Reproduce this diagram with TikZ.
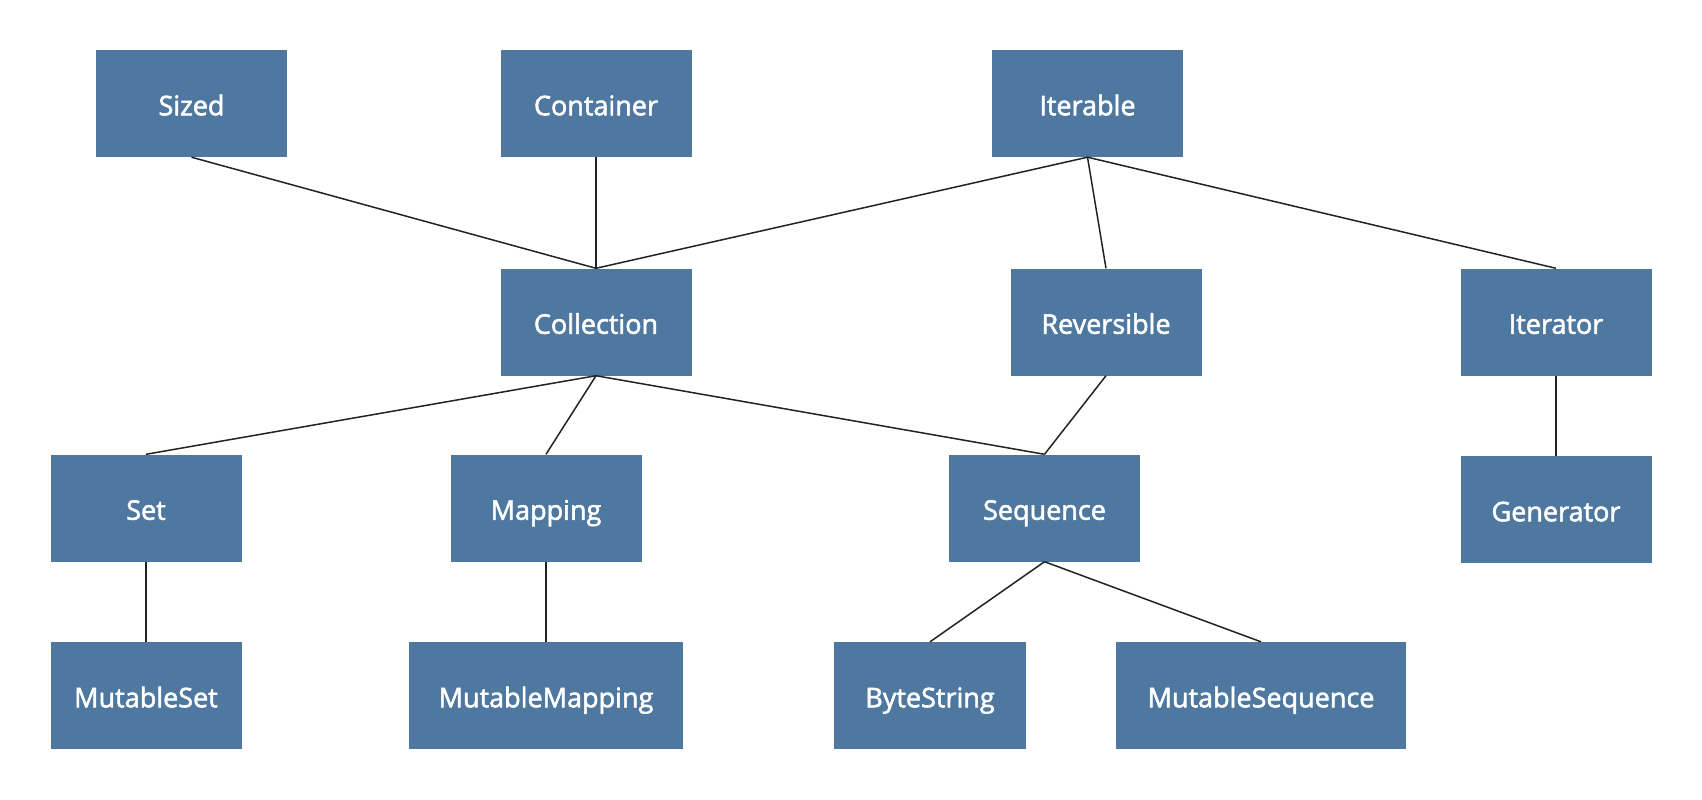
\documentclass[tikz,border=0pt]{standalone}
\usepackage{fontspec}
\setmainfont{Open Sans}[FakeBold=2.0]
\definecolor{boxblue}{RGB}{78,120,160}
\definecolor{edgegray}{RGB}{34,34,34}
\begin{document}
\begin{tikzpicture}[x=1pt,y=-1pt,
  cls/.style={fill=boxblue, draw=none, text=white, minimum width=191pt, minimum height=107pt, inner sep=0pt, text height=23.5pt, text depth=0pt, font=\fontsize{27}{32}\selectfont},
  link/.style={draw=edgegray, line width=1.5pt}]
\useasboundingbox (0,0) rectangle (1702,800);
\node[cls] (sized) at (191.5,103.5) {Sized};
\node[cls] (container) at (596,103.5) {Container};
\node[cls] (iterable) at (1087.5,103.5) {Iterable};
\node[cls] (collection) at (596,322) {Collection};
\node[cls] (reversible) at (1106,322) {Reversible};
\node[cls] (iterator) at (1556,322) {Iterator};
\node[cls] (set) at (146,508) {Set};
\node[cls] (mapping) at (546,508) {Mapping};
\node[cls] (sequence) at (1044.5,508) {Sequence};
\node[cls] (generator) at (1556,509.5) {Generator};
\node[cls] (mutset) at (146,695.5) {MutableSet};
\node[cls, minimum width=274pt] (mutmap) at (546,695.5) {MutableMapping};
\node[cls, minimum width=192pt] (bytestr) at (930,695.5) {ByteString};
\node[cls, minimum width=290pt] (mutseq) at (1261,695.5) {MutableSequence};
\draw[link] (sized.south) -- (collection.north);
\draw[link] (container.south) -- (collection.north);
\draw[link] (iterable.south) -- (collection.north);
\draw[link] (iterable.south) -- (reversible.north);
\draw[link] (iterable.south) -- (iterator.north);
\draw[link] (collection.south) -- (set.north);
\draw[link] (collection.south) -- (mapping.north);
\draw[link] (collection.south) -- (sequence.north);
\draw[link] (reversible.south) -- (sequence.north);
\draw[link] (iterator.south) -- (generator.north);
\draw[link] (set.south) -- (mutset.north);
\draw[link] (mapping.south) -- (mutmap.north);
\draw[link] (sequence.south) -- (bytestr.north);
\draw[link] (sequence.south) -- (mutseq.north);
\end{tikzpicture}
\end{document}
